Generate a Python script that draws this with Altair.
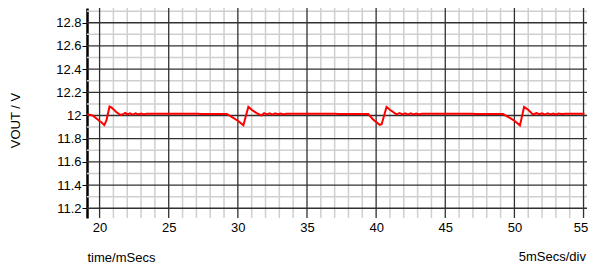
import altair as alt
import pandas as pd

# ---- grid / tick values ----
x_major = [20, 25, 30, 35, 40, 45, 50, 55]
x_minor = [21, 22, 23, 24, 26, 27, 28, 29, 31, 32, 33, 34, 36, 37, 38, 39,
           41, 42, 43, 44, 46, 47, 48, 49, 51, 52, 53, 54]
y_major = [11.2, 11.4, 11.6, 11.8, 12.0, 12.2, 12.4, 12.6, 12.8]
y_minor = [11.3, 11.5, 11.7, 11.9, 12.1, 12.3, 12.5, 12.7, 12.9]

# ---- waveform (time in ms, VOUT in V) ----
time_ms = [19.10, 19.50, 19.95, 20.15, 20.34, 20.50, 20.72, 20.85, 21.00, 21.20,
           21.50, 21.70, 21.86, 22.00, 22.20, 22.40, 22.60, 22.80, 23.00, 23.20,
           23.40, 23.70, 25.00, 27.10, 27.30, 29.20,
           29.67, 30.00, 30.40, 30.76, 31.00, 31.36, 31.70, 31.90, 32.10, 32.30,
           32.50, 32.70, 32.90, 33.10, 33.30, 33.50, 33.80, 37.00, 37.30, 39.43,
           39.78, 40.26, 40.40, 40.75, 41.00, 41.47, 41.70, 41.90, 42.10, 42.30,
           42.50, 42.70, 42.90, 43.10, 43.30, 43.70, 46.80, 47.30, 49.17,
           49.67, 50.00, 50.40, 50.70, 51.00, 51.33, 51.60, 51.80, 52.00, 52.20,
           52.40, 52.60, 52.80, 53.00, 53.20, 53.40, 53.75, 55.07]
vout_v = [12.010, 12.000, 11.957, 11.940, 11.917, 11.960, 12.078, 12.070, 12.055, 12.030,
          12.005, 12.012, 12.022, 12.010, 12.018, 12.008, 12.018, 12.009, 12.017, 12.009,
          12.016, 12.014, 12.015, 12.016, 12.012, 12.013,
          11.980, 11.955, 11.915, 12.075, 12.050, 12.020, 12.000, 12.020, 12.010, 12.018,
          12.008, 12.018, 12.010, 12.017, 12.009, 12.016, 12.014, 12.015, 12.012, 12.013,
          11.966, 11.920, 11.925, 12.074, 12.050, 12.010, 12.020, 12.010, 12.018, 12.008,
          12.018, 12.009, 12.017, 12.009, 12.016, 12.014, 12.015, 12.012, 12.012,
          11.980, 11.955, 11.915, 12.074, 12.050, 12.010, 12.020, 12.012, 12.018, 12.008,
          12.018, 12.009, 12.017, 12.009, 12.016, 12.012, 12.014, 12.014]

FONT = "Liberation Sans"

xs = alt.Scale(domain=[19.09, 55.25], nice=False, zero=False)
ys = alt.Scale(domain=[11.116, 12.927], nice=False, zero=False)

x_axis = alt.Axis(
    values=x_major, grid=False, domain=False, ticks=False,
    labelPadding=3, labelFlush=False, labelOverlap=False,
    labelOffset=alt.condition("datum.value >= 55", alt.value(-3), alt.value(0)),
    labelFont=FONT, labelFontSize=13, labelColor="#000000",
    title="time/mSecs", titleFont=FONT, titleFontSize=13,
    titleFontWeight="normal", titleColor="#000000",
    titleAnchor="start", titleAlign="left", titleBaseline="middle",
    titleX=0, titleY=39,
)
y_axis = alt.Axis(
    values=y_major, format=".1~f", grid=False,
    domain=True, domainColor="#000000", domainWidth=2.5,
    ticks=True, tickColor="#000000", tickSize=5, tickWidth=1,
    labelPadding=1, labelOverlap=False, labelFlush=False,
    labelFont=FONT, labelFontSize=13, labelColor="#000000",
    title="VOUT / V", titleFont=FONT, titleFontSize=13,
    titleFontWeight="normal", titleColor="#000000",
    titleAngle=270, titleAlign="center", titleBaseline="middle",
    titleX=-72, titleY=112,
)

wave = pd.DataFrame({"t": time_ms, "v": vout_v})

minor_x = alt.Chart(pd.DataFrame({"t": x_minor})).mark_rule(
    color="#cfcfcf", strokeWidth=1.5
).encode(x=alt.X("t:Q", scale=xs, axis=x_axis))

minor_y = alt.Chart(pd.DataFrame({"v": y_minor})).mark_rule(
    color="#cfcfcf", strokeWidth=1.5
).encode(y=alt.Y("v:Q", scale=ys, axis=y_axis))

major_x = alt.Chart(pd.DataFrame({"t": x_major})).mark_rule(
    color="#303030", strokeWidth=1.3
).encode(x=alt.X("t:Q", scale=xs, axis=x_axis))

major_y = alt.Chart(pd.DataFrame({"v": y_major})).mark_rule(
    color="#303030", strokeWidth=1.3
).encode(y=alt.Y("v:Q", scale=ys, axis=y_axis))

line = alt.Chart(wave).mark_line(color="#ff0000", strokeWidth=2).encode(
    x=alt.X("t:Q", scale=xs, axis=x_axis),
    y=alt.Y("v:Q", scale=ys, axis=y_axis),
)

note = alt.Chart(pd.DataFrame({"label": ["5mSecs/div"]})).mark_text(
    align="right", baseline="middle", font=FONT, fontSize=13, color="#000000"
).encode(text="label:N", x=alt.value(499), y=alt.value(249))

chart = alt.layer(minor_x, minor_y, major_x, major_y, line, note).properties(
    width=500,
    height=210,
    padding={"left": 79, "top": 0, "right": 2, "bottom": 46},
    autosize=alt.AutoSizeParams(type="none"),
    background="#ffffff",
).configure_view(stroke=None)

chart.save("out.html", embed_options={"renderer": "svg", "actions": False})
